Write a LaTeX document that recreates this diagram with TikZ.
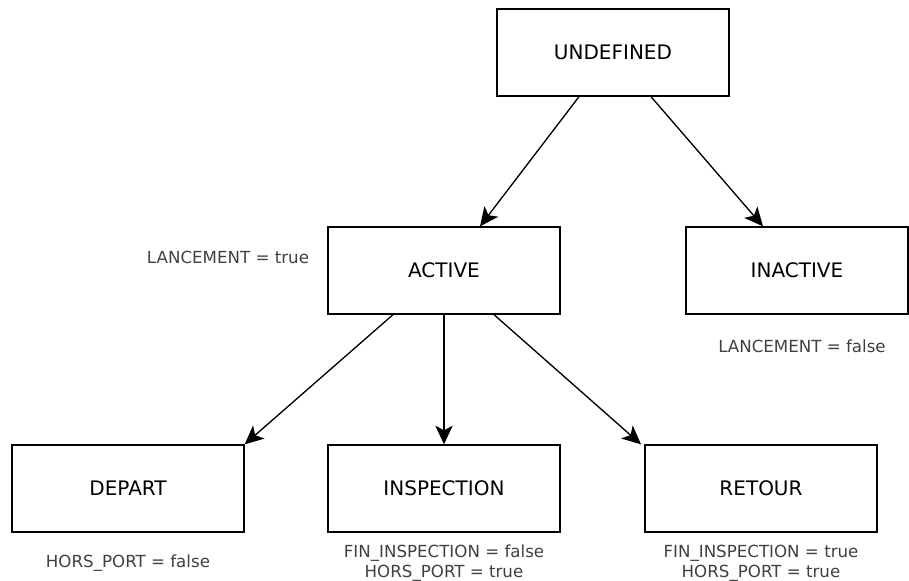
\documentclass[tikz,border=0pt]{standalone}
\usepackage{fontspec}
\setmainfont{DejaVu Sans}
\usetikzlibrary{arrows.meta}
\begin{document}
\begin{tikzpicture}[x=0.75pt,y=-0.75pt,
  state/.style={draw=black, line width=1pt, minimum width=174pt, minimum height=65.25pt, inner sep=0pt, font=\fontsize{15}{18}\selectfont},
  cond/.style={text=black!75, font=\fontsize{12.5}{15}\selectfont, align=center, inner sep=0pt},
  conn/.style={line width=1pt, -{Stealth[length=14pt,width=13pt,inset=3.5pt]}}]
\useasboundingbox (0,0) rectangle (909,581);
\node[state] (und) at (613,52.5) {UNDEFINED};
\node[state] (act) at (444,270.5) {ACTIVE};
\node[state, minimum width=166.5pt] (inact) at (797,270.5) {INACTIVE};
\node[state] (dep) at (128,488.5) {DEPART};
\node[state] (insp) at (444,488.5) {INSPECTION};
\node[state] (ret) at (761,488.5) {RETOUR};
\draw[conn] ([xshift=-25.5pt]und.south) -- ([xshift=27pt]act.north);
\draw[conn] ([xshift=28.5pt]und.south) -- ([xshift=-25.5pt]inact.north);
\draw[conn] ([xshift=-38.25pt]act.south) -- (dep.north east);
\draw[conn] (act.south) -- (insp.north);
\draw[conn] ([xshift=37.5pt]act.south) -- ([xshift=-90pt]ret.north);
\node[cond] (l1) at (228,257) {LANCEMENT = true};
\node[cond] (l2) at (802,346) {LANCEMENT = false};
\node[cond] (l3) at (128,563) {HORS\_PORT = false};
\node[cond] (l4) at (444,563) {FIN\_INSPECTION = false\\HORS\_PORT = true};
\node[cond] (l5) at (761,563) {FIN\_INSPECTION = true\\HORS\_PORT = true};
\end{tikzpicture}
\end{document}
